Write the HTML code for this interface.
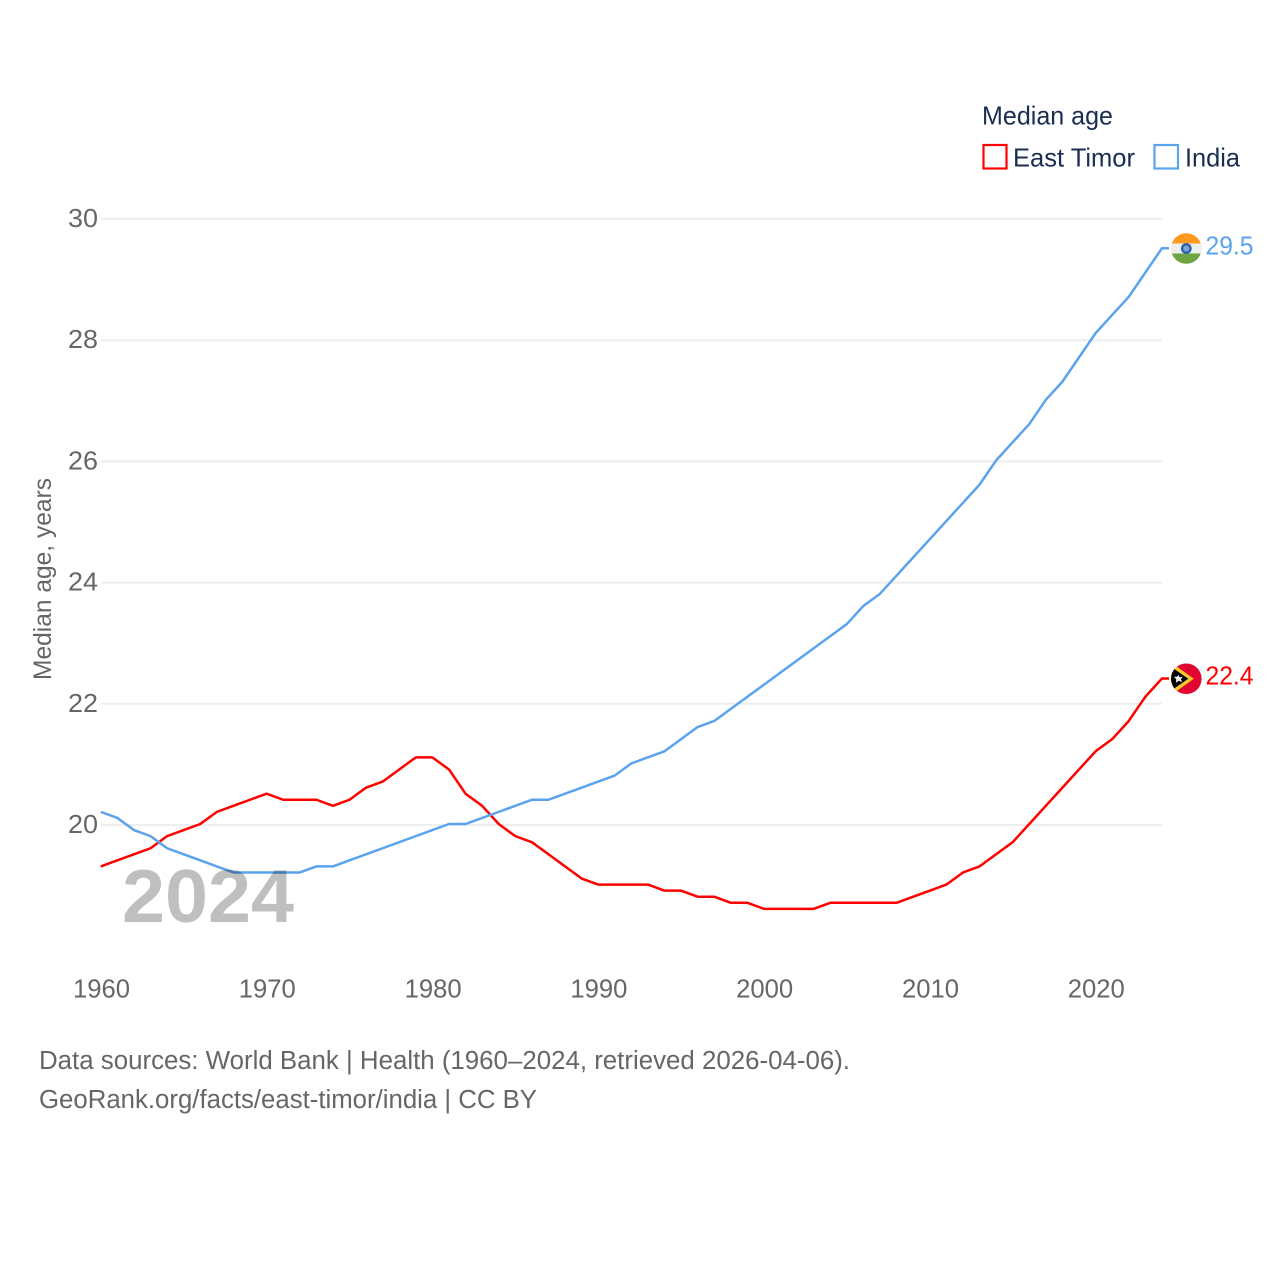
<!DOCTYPE html>
<html lang="en">
<head>
<meta charset="utf-8">
<title>Median age: East Timor and India</title>
<style>
html,body{margin:0;padding:0;background:#fff}
svg{display:block}
text{font-family:"Liberation Sans",sans-serif}
</style>
</head>
<body>
<svg id="chart" width="1280" height="1280" viewBox="0 0 1280 1280" xmlns="http://www.w3.org/2000/svg">
  <defs>
    <clipPath id="flag-clip-in"><circle cx="0" cy="0" r="15.3"/></clipPath>
    <clipPath id="flag-clip-tl"><circle cx="0" cy="0" r="15.3"/></clipPath>
  </defs>
  <rect x="0" y="0" width="1280" height="1280" fill="#fff"/>
  <g id="grid"></g>
  <g id="y-ticks"></g>
  <g id="x-ticks"></g>
  <text transform="translate(51 579) rotate(-90)" text-anchor="middle" font-size="25" fill="#666" textLength="202" lengthAdjust="spacingAndGlyphs">Median age, years</text>
  <g id="series"></g>
  <text x="122" y="922" font-size="75" font-weight="700" fill="#000" fill-opacity="0.25" textLength="172" lengthAdjust="spacingAndGlyphs">2024</text>

  <g id="flag-india" clip-path="url(#flag-clip-in)">
    <rect x="-16" y="-16" width="32" height="11" fill="#ff9a1f"/>
    <rect x="-16" y="-5" width="32" height="10" fill="#eeeeee"/>
    <rect x="-16" y="5" width="32" height="11" fill="#6da544"/>
    <circle cx="0" cy="0" r="5.4" fill="#2a64b0"/>
    <circle cx="0" cy="0" r="3" fill="#7fa3d6"/>
  </g>
  <g id="flag-timor" clip-path="url(#flag-clip-tl)">
    <rect x="-16" y="-16" width="32" height="32" fill="#e0062f"/>
    <polygon points="-16,-17 7.5,0 -16,17" fill="#ffc72c"/>
    <polygon points="-16,-12.5 2,0 -16,12.5" fill="#000"/>
    <polygon points="-8,-4 -6.8,-1.5 -3.5,-2 -5.5,0.5 -4,3.5 -7.5,2 -10.5,4 -10,0.5 -12.5,-2 -9.2,-2" fill="#f2f2f2"/>
  </g>
  <g id="end-labels"></g>

  <g>
    <text x="982" y="124.5" font-size="26" fill="#1a2e52" textLength="131" lengthAdjust="spacingAndGlyphs">Median age</text>
    <rect x="983.5" y="145" width="23" height="23.5" fill="none" stroke="#ff0000" stroke-width="2.2"/>
    <text x="1013" y="166.5" font-size="26" fill="#1a2e52" textLength="122" lengthAdjust="spacingAndGlyphs">East Timor</text>
    <rect x="1154.5" y="145" width="23.5" height="23.5" fill="none" stroke="#5ba3ee" stroke-width="2.2"/>
    <text x="1185" y="166.5" font-size="26" fill="#1a2e52" textLength="55" lengthAdjust="spacingAndGlyphs">India</text>
  </g>

  <text x="39" y="1069" font-size="25.5" fill="#666" textLength="811" lengthAdjust="spacingAndGlyphs">Data sources: World Bank | Health (1960–2024, retrieved 2026-04-06).</text>
  <text x="39" y="1108" font-size="25.5" fill="#666" textLength="498" lengthAdjust="spacingAndGlyphs">GeoRank.org/facts/east-timor/india | CC BY</text>
</svg>
<script>
const startYear = 1960;
const xTickLabels = [1960, 1970, 1980, 1990, 2000, 2010, 2020];
const yTickLabels = [20, 22, 24, 26, 28, 30];
const eastTimorValues = [19.3,19.4,19.5,19.6,19.8,19.9,20.0,20.2,20.3,20.4,20.5,20.4,20.4,20.4,20.3,20.4,20.6,20.7,20.9,21.1,21.1,20.9,20.5,20.3,20.0,19.8,19.7,19.5,19.3,19.1,19.0,19.0,19.0,19.0,18.9,18.9,18.8,18.8,18.7,18.7,18.6,18.6,18.6,18.6,18.7,18.7,18.7,18.7,18.7,18.8,18.9,19.0,19.2,19.3,19.5,19.7,20.0,20.3,20.6,20.9,21.2,21.4,21.7,22.1,22.4];
const indiaValues = [20.2,20.1,19.9,19.8,19.6,19.5,19.4,19.3,19.2,19.2,19.2,19.2,19.2,19.3,19.3,19.4,19.5,19.6,19.7,19.8,19.9,20.0,20.0,20.1,20.2,20.3,20.4,20.4,20.5,20.6,20.7,20.8,21.0,21.1,21.2,21.4,21.6,21.7,21.9,22.1,22.3,22.5,22.7,22.9,23.1,23.3,23.6,23.8,24.1,24.4,24.7,25.0,25.3,25.6,26.0,26.3,26.6,27.0,27.3,27.7,28.1,28.4,28.7,29.1,29.5];

const NS = 'http://www.w3.org/2000/svg';
const xScale = year => 101.5 + (year - startYear) * 16.58;
const yScale = value => 825 - (value - 20) * 60.6;
const plotRight = 1162;
const lineOffsetX = -0.7;
const lineOffsetY = -1;

function make(tag, attrs, parent, text) {
  const el = document.createElementNS(NS, tag);
  for (const k in attrs) el.setAttribute(k, attrs[k]);
  if (text !== undefined) el.textContent = text;
  parent.appendChild(el);
  return el;
}

const gridGroup = document.getElementById('grid');
const yTickGroup = document.getElementById('y-ticks');
const xTickGroup = document.getElementById('x-ticks');
const seriesGroup = document.getElementById('series');
const endGroup = document.getElementById('end-labels');

yTickLabels.forEach(t => {
  const line = make('line', {x1: 101, x2: plotRight, y1: yScale(t), y2: yScale(t), stroke: '#eeeeee', 'stroke-width': 2}, gridGroup);
  
  
  const label = make('text', {x: 98, y: yScale(t) + 8, 'text-anchor': 'end', 'font-size': 25.5, fill: '#666', textLength: 30, lengthAdjust: 'spacingAndGlyphs'}, yTickGroup, String(t));
  
  
});

xTickLabels.forEach(t => {
  const label = make('text', {x: xScale(t), y: 997.5, 'text-anchor': 'middle', 'font-size': 25.5, fill: '#666', textLength: 57, lengthAdjust: 'spacingAndGlyphs'}, xTickGroup, String(t));
  
  
});

function drawSeries(values, color, slug, flagId) {
  const pts = values.map((v, i) => (xScale(startYear + i) + lineOffsetX).toFixed(2) + ',' + (yScale(v) + lineOffsetY).toFixed(2));
  const lastValue = values[values.length - 1];
  const lastY = yScale(lastValue) + lineOffsetY;
  pts.push('1169,' + lastY.toFixed(2));
  const line = make('polyline', {points: pts.join(' '), fill: 'none', stroke: color, 'stroke-width': 2.5, 'stroke-linejoin': 'round'}, seriesGroup);
  
  
  document.getElementById(flagId).setAttribute('transform', 'translate(1186.3 ' + (lastY + 0.2).toFixed(2) + ')');
  const label = make('text', {x: 1205.5, y: lastY + 6, 'font-size': 25.5, fill: color, textLength: 48, lengthAdjust: 'spacingAndGlyphs'}, endGroup, lastValue.toFixed(1));
  
  
}

drawSeries(eastTimorValues, '#ff0000', 'east-timor', 'flag-timor');
drawSeries(indiaValues, '#5ba3ee', 'india', 'flag-india');
</script>
</body>
</html>
